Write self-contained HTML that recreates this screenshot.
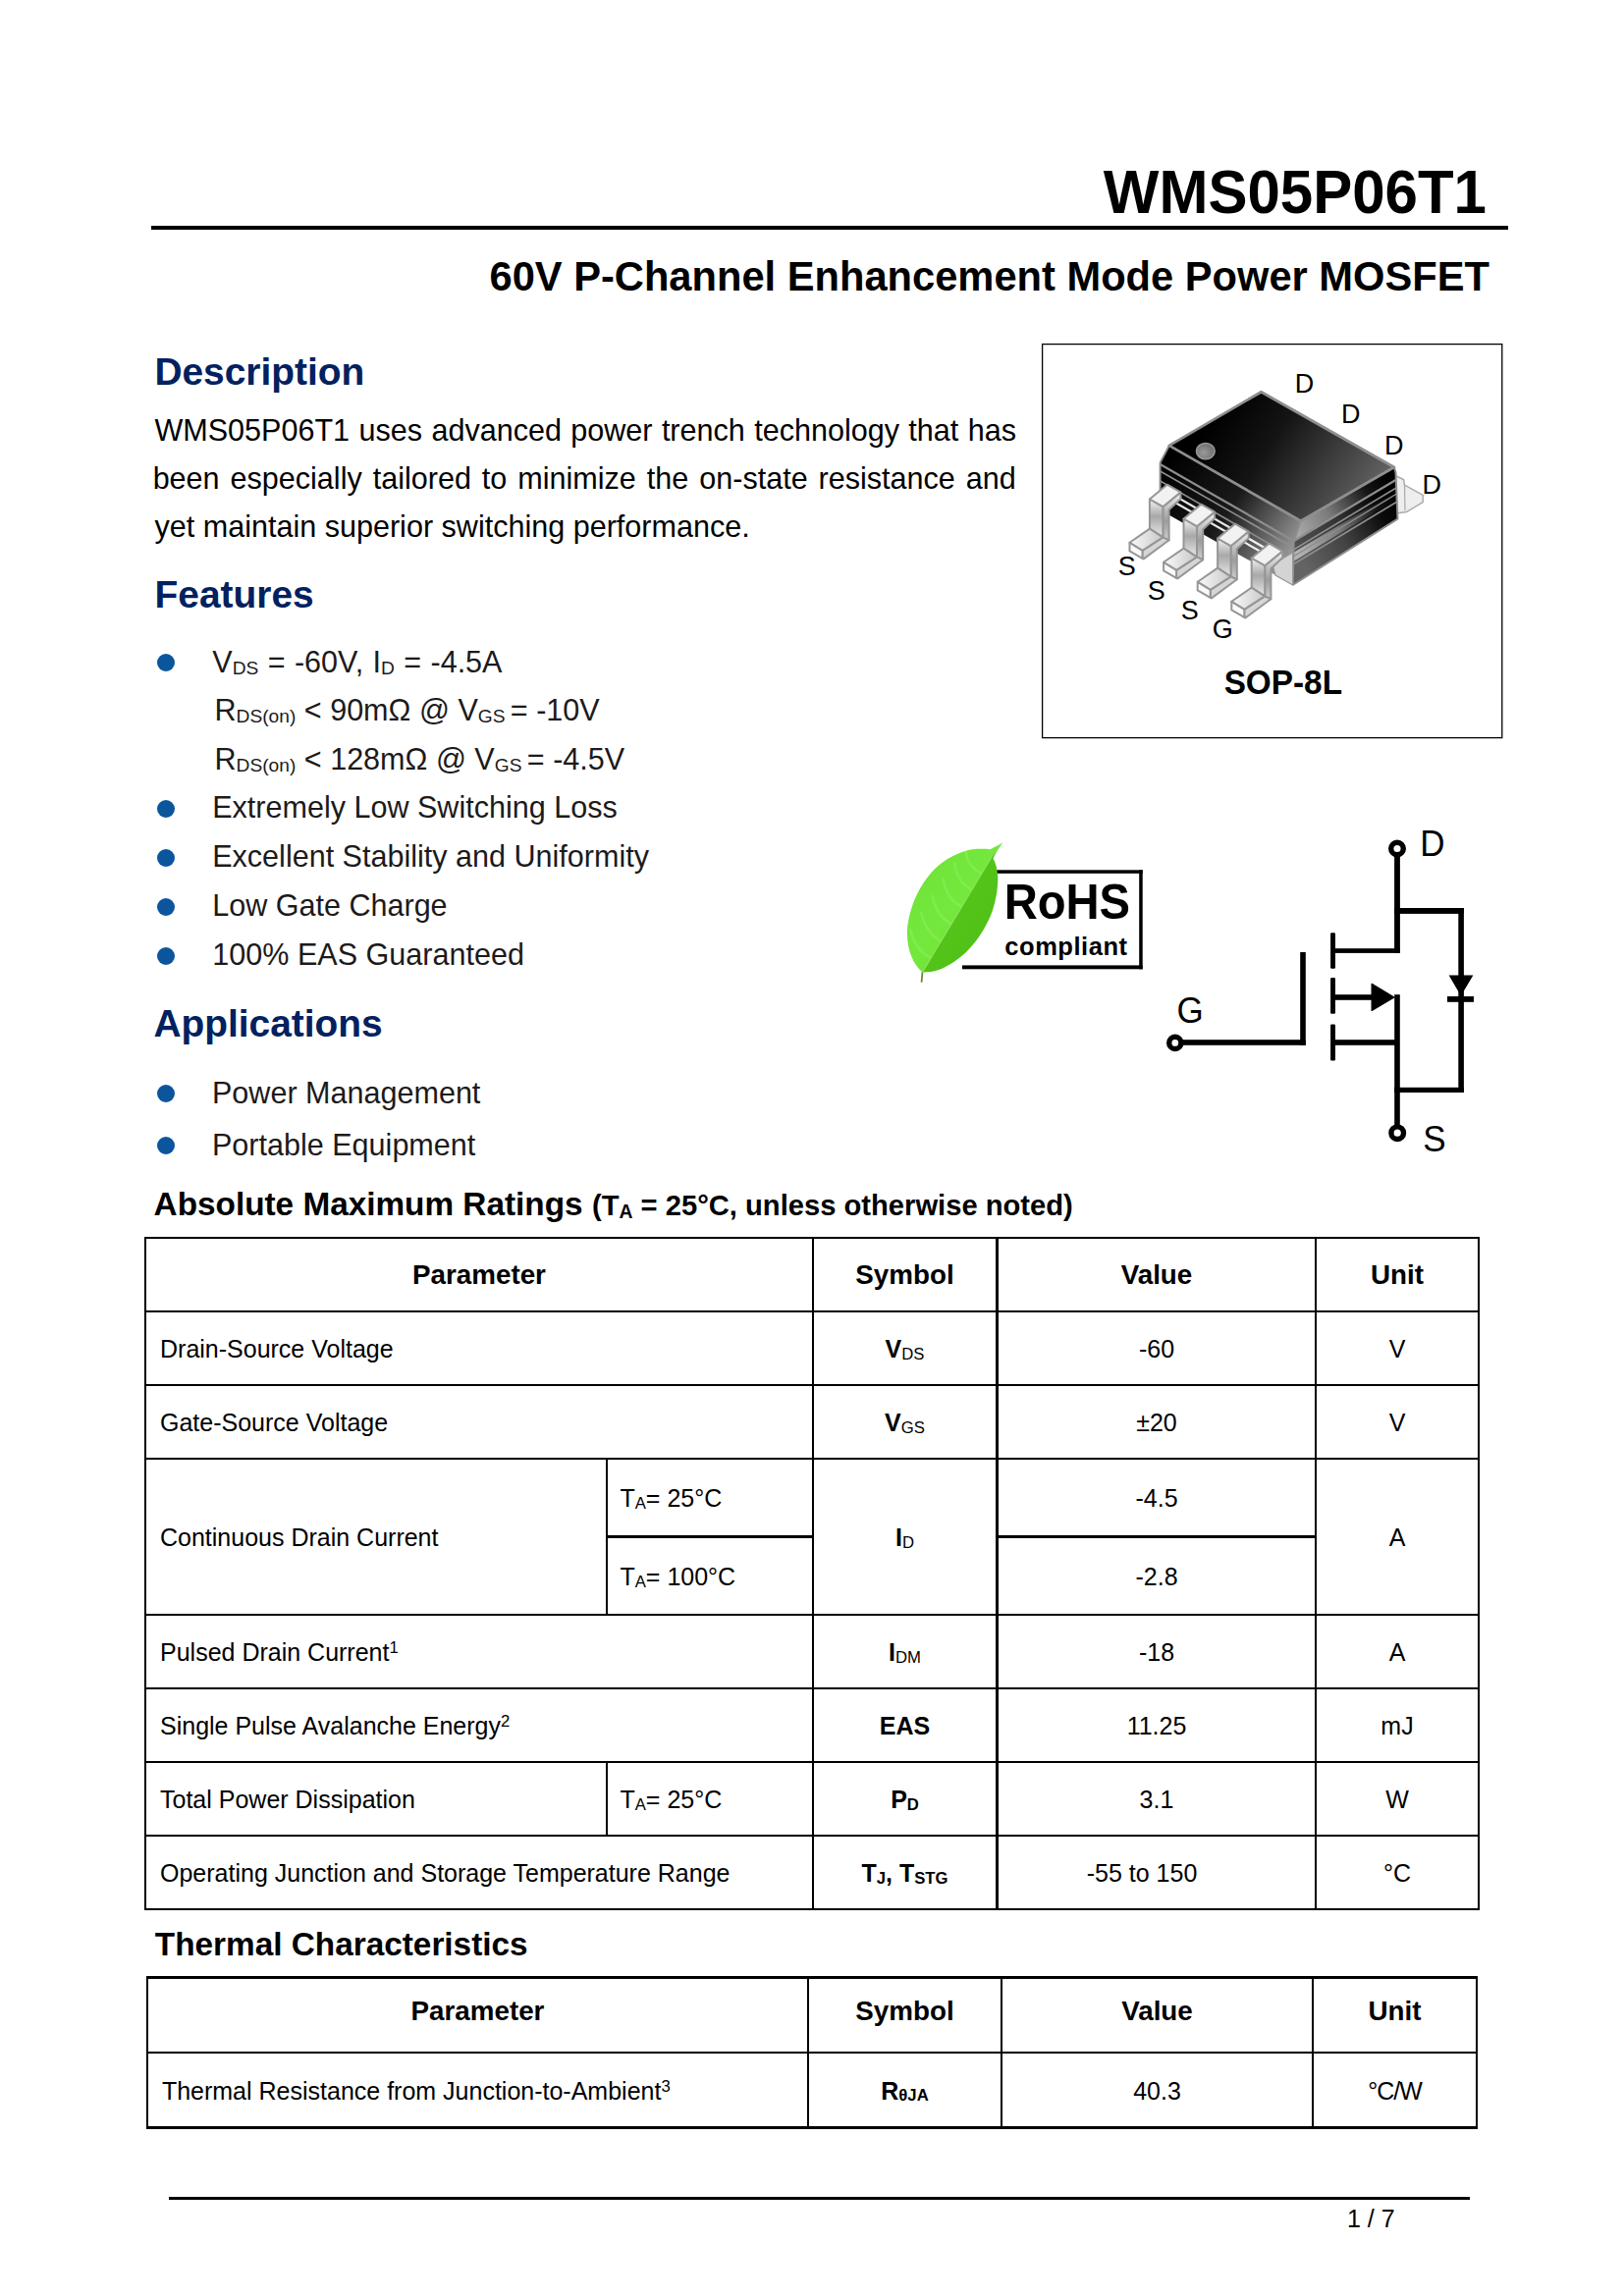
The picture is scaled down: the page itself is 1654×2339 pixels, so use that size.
<!DOCTYPE html>
<html lang="en"><head><meta charset="utf-8"><title>WMS05P06T1 Datasheet</title>
<style>
html,body{margin:0;padding:0;background:#fff;}
body{width:1654px;height:2339px;position:relative;overflow:hidden;font-family:"Liberation Sans",sans-serif;color:#000;}
.t{position:absolute;white-space:pre;line-height:normal;}
.r{position:absolute;}
svg{position:absolute;overflow:visible;}
svg text{font-family:"Liberation Sans",sans-serif;}
</style></head>
<body>
<div class="t" style="left:1123.84px;top:161.50px;font-size:60px;font-weight:bold;transform:scaleY(1.04);transform-origin:0 55.30px;">WMS05P06T1</div>
<div class="r" style="left:154px;top:230px;width:1382px;height:4px;background:#000;"></div>
<div class="t" style="left:498.47px;top:258.20px;font-size:41.67px;font-weight:bold;transform:scaleY(1.04);transform-origin:0 38.40px;">60V P-Channel Enhancement Mode Power MOSFET</div>
<div class="t" style="left:157.40px;top:356.96px;font-size:38.89px;font-weight:bold;color:#022160;transform:scaleY(1.02);transform-origin:0 35.84px;">Description</div>
<div class="t" style="left:157.47px;top:420.64px;font-size:30.56px;word-spacing:0.910px;">WMS05P06T1 uses advanced power trench technology that has</div>
<div class="t" style="left:155.63px;top:469.94px;font-size:30.56px;word-spacing:2.499px;">been especially tailored to minimize the on-state resistance and</div>
<div class="t" style="left:157.53px;top:519.24px;font-size:30.56px;">yet maintain superior switching performance.</div>
<div class="t" style="left:157.60px;top:583.86px;font-size:38.89px;font-weight:bold;color:#022160;transform:scaleY(1.02);transform-origin:0 35.84px;">Features</div>
<div class="r" style="left:160px;top:665.5px;width:18px;height:18px;border-radius:50%;background:#0b559d"></div>
<div class="r" style="left:160px;top:814.5px;width:18px;height:18px;border-radius:50%;background:#0b559d"></div>
<div class="r" style="left:160px;top:864.5px;width:18px;height:18px;border-radius:50%;background:#0b559d"></div>
<div class="r" style="left:160px;top:914.5px;width:18px;height:18px;border-radius:50%;background:#0b559d"></div>
<div class="r" style="left:160px;top:964.5px;width:18px;height:18px;border-radius:50%;background:#0b559d"></div>
<div class="t" style="left:216.27px;top:656.54px;font-size:30.56px;color:#1c1a1b;word-spacing:0.9px;">V<span style="font-size:19.2px;font-weight:normal;position:relative;top:2px">DS</span> = -60V, I<span style="font-size:19.2px;font-weight:normal;position:relative;top:2px">D</span> = -4.5A</div>
<div class="t" style="left:218.49px;top:706.44px;font-size:30.56px;color:#1c1a1b;">R<span style="font-size:19.2px;font-weight:normal;position:relative;top:2px">DS(on)</span> &lt; 90mΩ @ V<span style="font-size:19.2px;font-weight:normal;position:relative;top:2px">GS </span>= -10V</div>
<div class="t" style="left:218.49px;top:755.74px;font-size:30.56px;color:#1c1a1b;">R<span style="font-size:19.2px;font-weight:normal;position:relative;top:2px">DS(on)</span> &lt; 128mΩ @ V<span style="font-size:19.2px;font-weight:normal;position:relative;top:2px">GS </span>= -4.5V</div>
<div class="t" style="left:216.19px;top:805.14px;font-size:30.56px;color:#1c1a1b;">Extremely Low Switching Loss</div>
<div class="t" style="left:216.19px;top:854.84px;font-size:30.56px;color:#1c1a1b;">Excellent Stability and Uniformity</div>
<div class="t" style="left:216.19px;top:904.84px;font-size:30.56px;color:#1c1a1b;">Low Gate Charge</div>
<div class="t" style="left:216.37px;top:954.84px;font-size:30.56px;color:#1c1a1b;">100% EAS Guaranteed</div>
<div class="t" style="left:156.43px;top:1020.76px;font-size:38.89px;font-weight:bold;color:#022160;transform:scaleY(1.02);transform-origin:0 35.84px;">Applications</div>
<div class="r" style="left:160px;top:1105px;width:18px;height:18px;border-radius:50%;background:#0b559d"></div>
<div class="r" style="left:160px;top:1158px;width:18px;height:18px;border-radius:50%;background:#0b559d"></div>
<div class="t" style="left:215.99px;top:1096.34px;font-size:30.56px;color:#1c1a1b;">Power Management</div>
<div class="t" style="left:215.99px;top:1149.14px;font-size:30.56px;color:#1c1a1b;">Portable Equipment</div>
<div class="t" style="left:156.57px;top:1208.08px;font-size:33.33px;font-weight:bold;">Absolute Maximum Ratings</div>
<div class="t" style="left:602.95px;top:1211.92px;font-size:29.17px;font-weight:bold;">(T<span style="font-size:19.4px;font-weight:bold;position:relative;top:3px">A</span> = 25°C, unless otherwise noted)</div>
<div class="r" style="left:147px;top:1260px;width:2px;height:686px;background:#000;"></div>
<div class="r" style="left:1505px;top:1260px;width:2px;height:686px;background:#000;"></div>
<div class="r" style="left:827px;top:1260px;width:2px;height:686px;background:#000;"></div>
<div class="r" style="left:1014px;top:1260px;width:3px;height:686px;background:#000;"></div>
<div class="r" style="left:1339px;top:1260px;width:2px;height:686px;background:#000;"></div>
<div class="r" style="left:617px;top:1485px;width:2px;height:161px;background:#000;"></div>
<div class="r" style="left:617px;top:1794px;width:2px;height:77px;background:#000;"></div>
<div class="r" style="left:147px;top:1260px;width:1360px;height:2px;background:#000;"></div>
<div class="r" style="left:147px;top:1335px;width:1360px;height:2px;background:#000;"></div>
<div class="r" style="left:147px;top:1410px;width:1360px;height:2px;background:#000;"></div>
<div class="r" style="left:147px;top:1485px;width:1360px;height:2px;background:#000;"></div>
<div class="r" style="left:147px;top:1644px;width:1360px;height:2px;background:#000;"></div>
<div class="r" style="left:147px;top:1719px;width:1360px;height:2px;background:#000;"></div>
<div class="r" style="left:147px;top:1794px;width:1360px;height:2px;background:#000;"></div>
<div class="r" style="left:147px;top:1869px;width:1360px;height:2px;background:#000;"></div>
<div class="r" style="left:147px;top:1944px;width:1360px;height:2px;background:#000;"></div>
<div class="r" style="left:617px;top:1564px;width:212px;height:3px;background:#000;"></div>
<div class="r" style="left:1014px;top:1564px;width:327px;height:3px;background:#000;"></div>
<div class="t" style="left:149.00px;width:678.00px;top:1282.84px;font-size:27.78px;text-align:center;font-weight:bold;">Parameter</div>
<div class="t" style="left:829.00px;width:185.00px;top:1282.84px;font-size:27.78px;text-align:center;font-weight:bold;">Symbol</div>
<div class="t" style="left:1017.00px;width:322.00px;top:1282.84px;font-size:27.78px;text-align:center;font-weight:bold;">Value</div>
<div class="t" style="left:1341.00px;width:164.00px;top:1282.84px;font-size:27.78px;text-align:center;font-weight:bold;">Unit</div>
<div class="t" style="left:163.00px;top:1360.31px;font-size:25.0px;">Drain-Source Voltage</div>
<div class="t" style="left:829.00px;width:185.00px;top:1360.31px;font-size:25.0px;text-align:center;"><b>V</b><span style="font-size:16.7px;font-weight:normal;position:relative;top:1.5px">DS</span></div>
<div class="t" style="left:1017.00px;width:322.00px;top:1360.31px;font-size:25.0px;text-align:center;">-60</div>
<div class="t" style="left:1341.00px;width:164.00px;top:1360.31px;font-size:25.0px;text-align:center;">V</div>
<div class="t" style="left:163.00px;top:1435.31px;font-size:25.0px;">Gate-Source Voltage</div>
<div class="t" style="left:829.00px;width:185.00px;top:1435.31px;font-size:25.0px;text-align:center;"><b>V</b><span style="font-size:16.7px;font-weight:normal;position:relative;top:1.5px">GS</span></div>
<div class="t" style="left:1017.00px;width:322.00px;top:1435.31px;font-size:25.0px;text-align:center;">±20</div>
<div class="t" style="left:1341.00px;width:164.00px;top:1435.31px;font-size:25.0px;text-align:center;">V</div>
<div class="t" style="left:163.00px;top:1552.31px;font-size:25.0px;">Continuous Drain Current</div>
<div class="t" style="left:829.00px;width:185.00px;top:1552.31px;font-size:25.0px;text-align:center;"><b>I</b><span style="font-size:16.7px;font-weight:normal;position:relative;top:1.5px">D</span></div>
<div class="t" style="left:1341.00px;width:164.00px;top:1552.31px;font-size:25.0px;text-align:center;">A</div>
<div class="t" style="left:631.44px;top:1512.31px;font-size:25.0px;">T<span style="font-size:16.7px;font-weight:normal;position:relative;top:1.5px">A</span>= 25°C</div>
<div class="t" style="left:631.44px;top:1592.31px;font-size:25.0px;">T<span style="font-size:16.7px;font-weight:normal;position:relative;top:1.5px">A</span>= 100°C</div>
<div class="t" style="left:1017.00px;width:322.00px;top:1512.31px;font-size:25.0px;text-align:center;">-4.5</div>
<div class="t" style="left:1017.00px;width:322.00px;top:1592.31px;font-size:25.0px;text-align:center;">-2.8</div>
<div class="t" style="left:163.00px;top:1669.31px;font-size:25.0px;">Pulsed Drain Current<span style="font-size:16.7px;position:relative;top:-8px">1</span></div>
<div class="t" style="left:829.00px;width:185.00px;top:1669.31px;font-size:25.0px;text-align:center;"><b>I</b><span style="font-size:16.7px;font-weight:normal;position:relative;top:1.5px">DM</span></div>
<div class="t" style="left:1017.00px;width:322.00px;top:1669.31px;font-size:25.0px;text-align:center;">-18</div>
<div class="t" style="left:1341.00px;width:164.00px;top:1669.31px;font-size:25.0px;text-align:center;">A</div>
<div class="t" style="left:163.00px;top:1744.31px;font-size:25.0px;">Single Pulse Avalanche Energy<span style="font-size:16.7px;position:relative;top:-8px">2</span></div>
<div class="t" style="left:829.00px;width:185.00px;top:1744.31px;font-size:25.0px;text-align:center;"><b>EAS</b></div>
<div class="t" style="left:1017.00px;width:322.00px;top:1744.31px;font-size:25.0px;text-align:center;">11.25</div>
<div class="t" style="left:1341.00px;width:164.00px;top:1744.31px;font-size:25.0px;text-align:center;">mJ</div>
<div class="t" style="left:163.00px;top:1819.31px;font-size:25.0px;">Total Power Dissipation</div>
<div class="t" style="left:631.44px;top:1819.31px;font-size:25.0px;">T<span style="font-size:16.7px;font-weight:normal;position:relative;top:1.5px">A</span>= 25°C</div>
<div class="t" style="left:829.00px;width:185.00px;top:1819.31px;font-size:25.0px;text-align:center;"><b>P</b><span style="font-size:16.7px;font-weight:bold;position:relative;top:1.5px">D</span></div>
<div class="t" style="left:1017.00px;width:322.00px;top:1819.31px;font-size:25.0px;text-align:center;">3.1</div>
<div class="t" style="left:1341.00px;width:164.00px;top:1819.31px;font-size:25.0px;text-align:center;">W</div>
<div class="t" style="left:163.00px;top:1894.31px;font-size:25.0px;">Operating Junction and Storage Temperature Range</div>
<div class="t" style="left:829.00px;width:185.00px;top:1894.31px;font-size:25.0px;text-align:center;"><b>T</b><span style="font-size:16.7px;font-weight:bold;position:relative;top:1.5px">J</span><b>, T</b><span style="font-size:16.7px;font-weight:bold;position:relative;top:1.5px">STG</span></div>
<div class="t" style="left:987.00px;width:352.00px;top:1894.31px;font-size:25.0px;text-align:center;">-55 to 150</div>
<div class="t" style="left:1341.00px;width:164.00px;top:1894.31px;font-size:25.0px;text-align:center;">°C</div>
<div class="t" style="left:157.83px;top:1962.08px;font-size:33.33px;font-weight:bold;">Thermal Characteristics</div>
<div class="r" style="left:149px;top:2013px;width:1356px;height:3px;background:#000;"></div>
<div class="r" style="left:149px;top:2090px;width:1356px;height:2px;background:#000;"></div>
<div class="r" style="left:149px;top:2166px;width:1356px;height:3px;background:#000;"></div>
<div class="r" style="left:149px;top:2013px;width:2px;height:156px;background:#000;"></div>
<div class="r" style="left:1503px;top:2013px;width:2px;height:156px;background:#000;"></div>
<div class="r" style="left:822px;top:2013px;width:2px;height:156px;background:#000;"></div>
<div class="r" style="left:1019px;top:2013px;width:2px;height:156px;background:#000;"></div>
<div class="r" style="left:1336px;top:2013px;width:2px;height:156px;background:#000;"></div>
<div class="t" style="left:151.00px;width:671.00px;top:2033.20px;font-size:27.78px;text-align:center;font-weight:bold;">Parameter</div>
<div class="t" style="left:824.00px;width:195.00px;top:2033.20px;font-size:27.78px;text-align:center;font-weight:bold;">Symbol</div>
<div class="t" style="left:1021.00px;width:315.00px;top:2033.20px;font-size:27.78px;text-align:center;font-weight:bold;">Value</div>
<div class="t" style="left:1338.00px;width:165.00px;top:2033.20px;font-size:27.78px;text-align:center;font-weight:bold;">Unit</div>
<div class="t" style="left:164.90px;top:2115.81px;font-size:25.0px;">Thermal Resistance from Junction-to-Ambient<span style="font-size:16.7px;position:relative;top:-8px">3</span></div>
<div class="t" style="left:824.00px;width:195.00px;top:2115.81px;font-size:25.0px;text-align:center;"><b>R</b><span style="font-size:16.7px;font-weight:bold;position:relative;top:1.5px">θJA</span></div>
<div class="t" style="left:1021.00px;width:315.00px;top:2115.81px;font-size:25.0px;text-align:center;">40.3</div>
<div class="t" style="left:1338.00px;width:165.00px;top:2115.81px;font-size:25.0px;text-align:center;letter-spacing:-1px;">°C/W</div>
<div class="r" style="left:172px;top:2238px;width:1325px;height:3px;background:#000;"></div>
<div class="t" style="left:1371.90px;top:2245.76px;font-size:25.0px;">1 / 7</div>
<svg style="left:1061px;top:350px" width="470" height="403" viewBox="1061 350 470 403"><defs><linearGradient id="topG" gradientUnits="userSpaceOnUse" x1="1240" y1="420" x2="1390" y2="520"><stop offset="0" stop-color="#000"/><stop offset="0.35" stop-color="#141414"/><stop offset="1" stop-color="#636363"/></linearGradient><linearGradient id="leftG" gradientUnits="userSpaceOnUse" x1="1190" y1="470" x2="1320" y2="560"><stop offset="0" stop-color="#000"/><stop offset="0.5" stop-color="#1a1a1a"/><stop offset="1" stop-color="#9a9a9a"/></linearGradient><linearGradient id="rightG" gradientUnits="userSpaceOnUse" x1="1320" y1="560" x2="1422" y2="500"><stop offset="0" stop-color="#b4b4b4"/><stop offset="0.4" stop-color="#7a7a7a"/><stop offset="0.78" stop-color="#151515"/><stop offset="1" stop-color="#000"/></linearGradient><linearGradient id="pinV" x1="0" y1="0" x2="0" y2="1"><stop offset="0" stop-color="#f4f4f4"/><stop offset="0.45" stop-color="#a8a8a8"/><stop offset="1" stop-color="#e8e8e8"/></linearGradient><linearGradient id="pinS" x1="0" y1="0" x2="0" y2="1"><stop offset="0" stop-color="#f0f0f0"/><stop offset="0.6" stop-color="#9c9c9c"/><stop offset="1" stop-color="#d0d0d0"/></linearGradient><linearGradient id="footG" x1="0" y1="0" x2="1" y2="0"><stop offset="0" stop-color="#fafafa"/><stop offset="1" stop-color="#c8c8c8"/></linearGradient><radialGradient id="dotG" cx="0.4" cy="0.6" r="0.6"><stop offset="0" stop-color="#9a9a9a"/><stop offset="1" stop-color="#6e6e6e"/></radialGradient></defs><rect x="1061.6" y="350.6" width="468.2" height="401" fill="#fff" stroke="#000" stroke-width="1.3"/><polygon points="1421,484.5 1429.5,488.5 1430.5,494 1449.2,504.5 1449.2,511.5 1432.5,521.5 1422,523" fill="#eeeeee" stroke="#a8a8a8" stroke-width="1.4"/><polyline points="1430.5,494 1431,520" fill="none" stroke="#a8a8a8" stroke-width="1.2"/><polygon points="1190.8,453.9 1324.8,530.7 1317.7,552 1316.6,596 1181.6,519.5 1181.6,471.4" fill="url(#leftG)"/><polygon points="1324.8,530.7 1419.9,476 1421.5,481 1423.5,528.7 1316.6,596 1317.7,552" fill="url(#rightG)"/><polygon points="1317.7,552 1421.5,490 1423,500 1317,563" fill="#000" opacity="0.55"/><polygon points="1317,572 1423,508 1423.5,528.7 1316.6,596" fill="#000" opacity="0.45"/><line x1="1181.6" y1="473" x2="1317.7" y2="551" stroke="#8e8e8e" stroke-width="2.2"/><line x1="1181.6" y1="480" x2="1317.5" y2="558" stroke="#8e8e8e" stroke-width="1.6"/><line x1="1181.6" y1="490" x2="1317.3" y2="568" stroke="#8e8e8e" stroke-width="1.6"/><line x1="1317.7" y1="551" x2="1421.5" y2="489" stroke="#8e8e8e" stroke-width="2.2"/><line x1="1317.5" y1="560" x2="1422" y2="497" stroke="#8e8e8e" stroke-width="1.6"/><line x1="1317.3" y1="567" x2="1422.5" y2="503" stroke="#8e8e8e" stroke-width="1.4"/><line x1="1317" y1="575" x2="1423" y2="511" stroke="#8e8e8e" stroke-width="1.6"/><line x1="1316.6" y1="596" x2="1423.5" y2="528.7" stroke="#8e8e8e" stroke-width="2"/><line x1="1317.7" y1="552" x2="1316.6" y2="596" stroke="#8e8e8e" stroke-width="2"/><line x1="1324.8" y1="530.7" x2="1317.7" y2="552" stroke="#8e8e8e" stroke-width="2"/><line x1="1421.5" y1="481" x2="1423.5" y2="528.7" stroke="#8e8e8e" stroke-width="2"/><line x1="1190.8" y1="453.9" x2="1181.6" y2="471.4" stroke="#8e8e8e" stroke-width="2"/><line x1="1181.6" y1="471.4" x2="1181.6" y2="500" stroke="#8e8e8e" stroke-width="2"/><line x1="1419.9" y1="476" x2="1421.5" y2="481" stroke="#8e8e8e" stroke-width="2"/><line x1="1186" y1="499" x2="1300" y2="565" stroke="#fff" stroke-width="2.2" opacity="0.9"/><line x1="1190" y1="508" x2="1305" y2="574" stroke="#fff" stroke-width="2.2" opacity="0.9"/><polygon points="1296,575 1316.6,563 1316.6,596 1299,586" fill="#d4d4d4" stroke="#999" stroke-width="1.2"/><polygon points="1284.5,399.2 1419.9,476 1324.8,530.7 1190.8,453.9" fill="url(#topG)" stroke="#8f8f8f" stroke-width="2.8" stroke-linejoin="round"/><ellipse cx="1227.8" cy="459.6" rx="9.4" ry="8.2" fill="url(#dotG)" stroke="#9a9a9a" stroke-width="1.5"/><polygon points="1184.4,516.2 1202.3,501.7 1202.6,507.9 1190.6,519.2 1190.6,550.3 1184.4,547.3" fill="url(#pinS)" stroke="#969696" stroke-width="2" stroke-linejoin="round"/><polygon points="1170.9,508.5 1184.4,516.2 1184.4,547.3 1170.9,538.6" fill="url(#pinV)" stroke="#969696" stroke-width="2" stroke-linejoin="round"/><polygon points="1188.7,493.7 1202.3,501.4 1184.4,516.2 1170.9,508.5" fill="#f2f2f2" stroke="#969696" stroke-width="2" stroke-linejoin="round"/><polygon points="1163.5,560.8 1184.4,547.3 1190.6,550.3 1164.7,569.4 1163.5,568.8" fill="#d6d6d6" stroke="#969696" stroke-width="2" stroke-linejoin="round"/><polygon points="1170.9,538.6 1184.4,547.3 1163.5,560.8 1150.5,552.8" fill="url(#footG)" stroke="#969696" stroke-width="2" stroke-linejoin="round"/><polygon points="1150.5,552.8 1163.5,560.8 1163.5,568.8 1150.5,561.4" fill="#fafafa" stroke="#969696" stroke-width="2" stroke-linejoin="round"/><polygon points="1219.0,536.2 1236.9,521.7 1237.2,527.9 1225.2,539.2 1225.2,570.3 1219.0,567.3" fill="url(#pinS)" stroke="#969696" stroke-width="2" stroke-linejoin="round"/><polygon points="1205.5,528.5 1219.0,536.2 1219.0,567.3 1205.5,558.6" fill="url(#pinV)" stroke="#969696" stroke-width="2" stroke-linejoin="round"/><polygon points="1223.3,513.7 1236.9,521.4 1219.0,536.2 1205.5,528.5" fill="#f2f2f2" stroke="#969696" stroke-width="2" stroke-linejoin="round"/><polygon points="1198.1,580.8 1219.0,567.3 1225.2,570.3 1199.3,589.4 1198.1,588.8" fill="#d6d6d6" stroke="#969696" stroke-width="2" stroke-linejoin="round"/><polygon points="1205.5,558.6 1219.0,567.3 1198.1,580.8 1185.1,572.8" fill="url(#footG)" stroke="#969696" stroke-width="2" stroke-linejoin="round"/><polygon points="1185.1,572.8 1198.1,580.8 1198.1,588.8 1185.1,581.4" fill="#fafafa" stroke="#969696" stroke-width="2" stroke-linejoin="round"/><polygon points="1253.6,556.2 1271.5,541.7 1271.8,547.9 1259.8,559.2 1259.8,590.3 1253.6,587.3" fill="url(#pinS)" stroke="#969696" stroke-width="2" stroke-linejoin="round"/><polygon points="1240.1,548.5 1253.6,556.2 1253.6,587.3 1240.1,578.6" fill="url(#pinV)" stroke="#969696" stroke-width="2" stroke-linejoin="round"/><polygon points="1257.9,533.7 1271.5,541.4 1253.6,556.2 1240.1,548.5" fill="#f2f2f2" stroke="#969696" stroke-width="2" stroke-linejoin="round"/><polygon points="1232.7,600.8 1253.6,587.3 1259.8,590.3 1233.9,609.4 1232.7,608.8" fill="#d6d6d6" stroke="#969696" stroke-width="2" stroke-linejoin="round"/><polygon points="1240.1,578.6 1253.6,587.3 1232.7,600.8 1219.7,592.8" fill="url(#footG)" stroke="#969696" stroke-width="2" stroke-linejoin="round"/><polygon points="1219.7,592.8 1232.7,600.8 1232.7,608.8 1219.7,601.4" fill="#fafafa" stroke="#969696" stroke-width="2" stroke-linejoin="round"/><polygon points="1288.2,576.2 1306.1,561.7 1306.4,567.9 1294.4,579.2 1294.4,610.3 1288.2,607.3" fill="url(#pinS)" stroke="#969696" stroke-width="2" stroke-linejoin="round"/><polygon points="1274.7,568.5 1288.2,576.2 1288.2,607.3 1274.7,598.6" fill="url(#pinV)" stroke="#969696" stroke-width="2" stroke-linejoin="round"/><polygon points="1292.5,553.7 1306.1,561.4 1288.2,576.2 1274.7,568.5" fill="#f2f2f2" stroke="#969696" stroke-width="2" stroke-linejoin="round"/><polygon points="1267.3,620.8 1288.2,607.3 1294.4,610.3 1268.5,629.4 1267.3,628.8" fill="#d6d6d6" stroke="#969696" stroke-width="2" stroke-linejoin="round"/><polygon points="1274.7,598.6 1288.2,607.3 1267.3,620.8 1254.3,612.8" fill="url(#footG)" stroke="#969696" stroke-width="2" stroke-linejoin="round"/><polygon points="1254.3,612.8 1267.3,620.8 1267.3,628.8 1254.3,621.4" fill="#fafafa" stroke="#969696" stroke-width="2" stroke-linejoin="round"/><text transform="translate(1318.79,399.70) scale(1,1.04)" x="0" y="0" font-size="27" >D</text><text transform="translate(1365.89,430.70) scale(1,1.04)" x="0" y="0" font-size="27" >D</text><text transform="translate(1409.89,462.60) scale(1,1.04)" x="0" y="0" font-size="27" >D</text><text transform="translate(1448.59,502.70) scale(1,1.04)" x="0" y="0" font-size="27" >D</text><text transform="translate(1138.67,586.30) scale(1,1.04)" x="0" y="0" font-size="27" >S</text><text transform="translate(1168.87,610.50) scale(1,1.04)" x="0" y="0" font-size="27" >S</text><text transform="translate(1202.87,631.30) scale(1,1.04)" x="0" y="0" font-size="27" >S</text><text transform="translate(1234.64,650.00) scale(1,1.04)" x="0" y="0" font-size="27" >G</text><text transform="translate(1246.64,706.60) scale(1,1.04)" x="0" y="0" font-size="33.33" font-weight="bold" >SOP-8L</text></svg>
<svg style="left:915px;top:850px" width="255" height="160" viewBox="915 850 255 160"><defs><linearGradient id="lfL" x1="0" y1="0" x2="1" y2="1"><stop offset="0" stop-color="#6fe23a"/><stop offset="0.5" stop-color="#74e83c"/><stop offset="1" stop-color="#5fd02a"/></linearGradient><linearGradient id="lfR" x1="0" y1="0" x2="1" y2="1"><stop offset="0" stop-color="#58c81c"/><stop offset="1" stop-color="#4fbf16"/></linearGradient></defs><rect x="1014" y="886.3" width="149.7" height="3.5" fill="#000"/><rect x="1160.2" y="886.3" width="3.5" height="101" fill="#000"/><rect x="980" y="983.4" width="183.7" height="3.9" fill="#000"/><clipPath id="lfClip"><path d="M1021.4,858.5 C1015,862 1010,864.5 1008.9,865.2 C1000,864.5 990,864.6 984,866.8 C975,869.5 966,873.5 958,880 C950,886 942,896 936,907 C930,918 926,931 924.2,944 C923.2,956 925,967 929,976 C932,983 936,987 939.4,990.4 L1009.6,873.7 Z"/></clipPath><path d="M1021.4,858.5 C1015,862 1010,864.5 1008.9,865.2 C1000,864.5 990,864.6 984,866.8 C975,869.5 966,873.5 958,880 C950,886 942,896 936,907 C930,918 926,931 924.2,944 C923.2,956 925,967 929,976 C932,983 936,987 939.4,990.4 L1009.6,873.7 Z" fill="url(#lfL)"/><path d="M1021.4,858.5 L1009.6,873.7 L939.4,990.4 C944,990.5 950,990 956,988 C965,985 975,978 984,970 C993,961 1001,950 1007.5,936 C1013,924 1016,910 1016.3,896 C1016.4,887 1014.5,880 1011.5,874.5 C1014,869 1018,863 1021.4,858.5 Z" fill="url(#lfR)"/><path d="M948.4,976.4 Q932.4,968.4 927.1,946.9" stroke="#8af257" stroke-width="3" fill="none" opacity="0.5" stroke-linecap="round" clip-path="url(#lfClip)"/><path d="M958.8,958.9 Q942.8,950.9 938.4,930.0" stroke="#8af257" stroke-width="3" fill="none" opacity="0.5" stroke-linecap="round" clip-path="url(#lfClip)"/><path d="M969.2,941.4 Q953.2,933.4 949.8,913.1" stroke="#8af257" stroke-width="3" fill="none" opacity="0.5" stroke-linecap="round" clip-path="url(#lfClip)"/><path d="M979.7,923.9 Q963.7,915.9 961.1,896.2" stroke="#8af257" stroke-width="3" fill="none" opacity="0.5" stroke-linecap="round" clip-path="url(#lfClip)"/><path d="M990.1,906.4 Q974.1,898.4 972.4,879.3" stroke="#8af257" stroke-width="3" fill="none" opacity="0.5" stroke-linecap="round" clip-path="url(#lfClip)"/><path d="M999.9,890.0 Q983.9,882.0 983.0,863.5" stroke="#8af257" stroke-width="3" fill="none" opacity="0.5" stroke-linecap="round" clip-path="url(#lfClip)"/><path d="M1009.6,873.7 L939.4,990.4" stroke="#8be35a" stroke-width="1.2" fill="none"/><path d="M939.4,990.4 L938.6,1000.8" stroke="#6a8a3a" stroke-width="1.8" fill="none"/><text transform="translate(1022.64,935.60) scale(1,1.05)" x="0" y="0" font-size="47.2" font-weight="bold" >RoHS</text><text transform="translate(1023.30,972.50) scale(1,1.04)" x="0" y="0" font-size="25.5" font-weight="bold" letter-spacing="0.55">compliant</text></svg>
<svg style="left:1180px;top:840px" width="330" height="345" viewBox="1180 840 330 345"><circle cx="1423" cy="864.5" r="6.3" fill="none" stroke="#000" stroke-width="5.4"/><rect x="1420.1" y="872" width="5.8" height="99" fill="#000"/><rect x="1420.1" y="925" width="70.8" height="5.9" fill="#000"/><rect x="1485.3" y="925" width="5.6" height="188" fill="#000"/><polygon points="1475.6,993.6 1500.4,993.6 1487.9,1014.5" fill="#000"/><rect x="1474" y="1015" width="27" height="5.8" fill="#000"/><rect x="1359.8" y="966.2" width="66.1" height="4.7" fill="#000"/><rect x="1355.1" y="950.2" width="4.9" height="36.6" rx="1.2" fill="#000"/><rect x="1355.1" y="996.0" width="4.9" height="36.7" rx="1.2" fill="#000"/><rect x="1355.1" y="1043.4" width="4.9" height="37.0" rx="1.2" fill="#000"/><rect x="1359.8" y="1013.2" width="40" height="5.6" fill="#000"/><polygon points="1397.0,1002.0 1420.2,1016.0 1397.0,1029.8" fill="#000" stroke="#000" stroke-width="1" stroke-linejoin="round"/><rect x="1420.2" y="1013.2" width="5.6" height="133" fill="#000"/><rect x="1359.8" y="1059.2" width="62" height="5.6" fill="#000"/><rect x="1420.2" y="1107.8" width="70.7" height="5.2" fill="#000"/><circle cx="1423.2" cy="1154.2" r="6.3" fill="none" stroke="#000" stroke-width="5.4"/><rect x="1324.2" y="970.0" width="5.6" height="94.8" fill="#000"/><rect x="1203" y="1059.2" width="126.8" height="5.6" fill="#000"/><circle cx="1196.8" cy="1062.4" r="6.1" fill="none" stroke="#000" stroke-width="5.4"/><text transform="translate(1446.23,872.40) scale(1,1.04)" x="0" y="0" font-size="35" >D</text><text transform="translate(1198.44,1042.00) scale(1,1.04)" x="0" y="0" font-size="35" >G</text><text transform="translate(1449.21,1173.40) scale(1,1.04)" x="0" y="0" font-size="35" >S</text></svg>
</body></html>
